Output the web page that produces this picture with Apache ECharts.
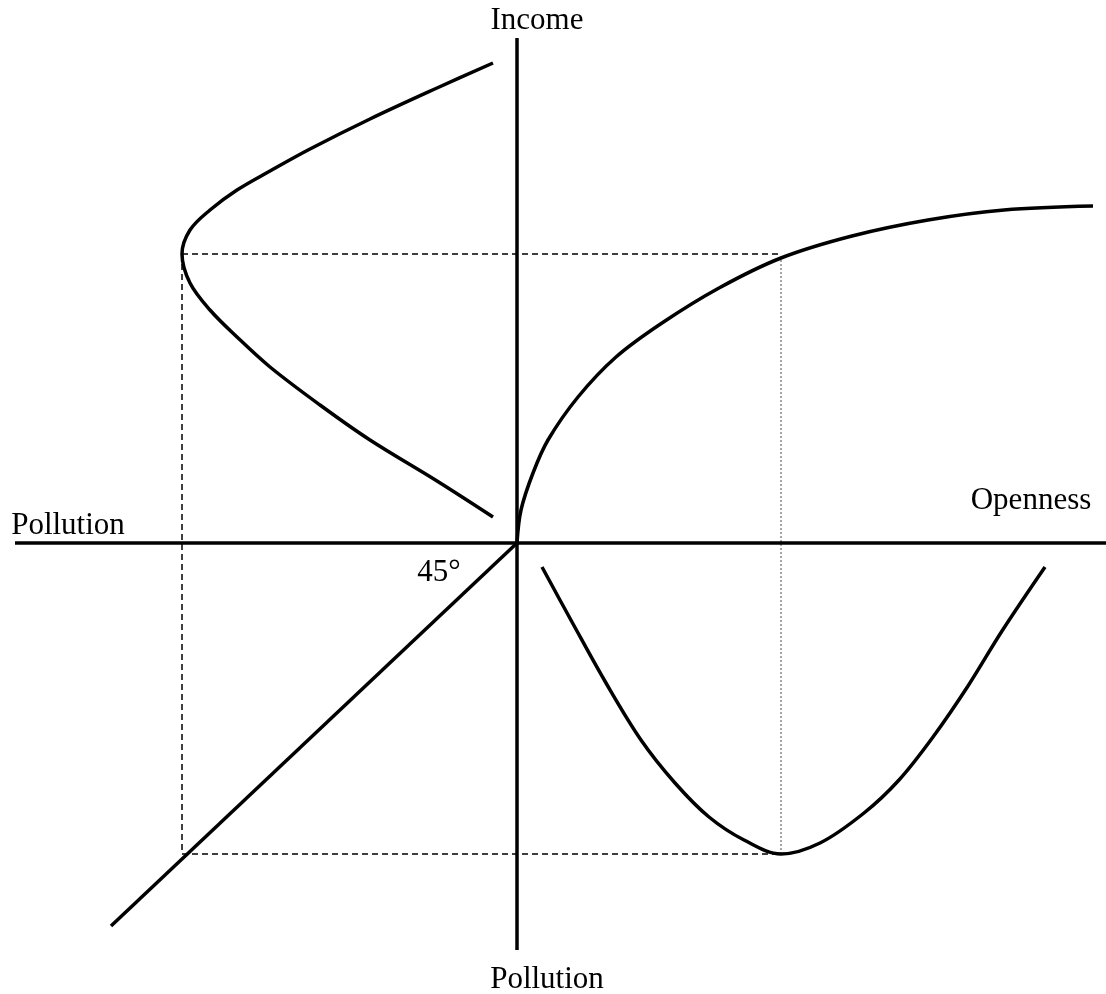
<!DOCTYPE html>
<html>
<head>
<meta charset="utf-8">
<title>Openness, income and pollution</title>
<script src="https://cdn.jsdelivr.net/npm/echarts@6/dist/echarts.min.js"></script>
<style>
    html, body { margin: 0; padding: 0; background: #fff; }
    #chart { width: 1106px; height: 994px; }
</style>
</head>
<body>
<div id="chart"></div>
<script>
// origin = where the two axes cross; x to the right = openness, x to the left = pollution,
// y up = income, y down = pollution
var incomePollution = [[-24, 480], [-80, 455], [-147, 424], [-207, 394], [-247, 372], [-280, 353],
    [-307, 333], [-327, 313], [-335, 289], [-327, 260], [-307, 233], [-280, 206], [-247, 176],
    [-197, 138], [-147, 103], [-80, 62], [-24, 26]];
var opennessIncome = [[0, 0], [4, 33], [16, 70], [31, 103], [61, 146], [99, 186], [145, 220],
    [202, 255], [264, 285], [335, 307], [411, 323], [487, 333], [576, 337]];
var opennessPollution = [[25, -24], [55, -79], [89, -140], [124, -197], [158, -240], [192, -274],
    [227, -297], [264, -311], [303, -300], [347, -270], [382, -237], [416, -194], [451, -143],
    [485, -88], [528, -24]];
var line45 = [[0, 0], [-406, -383]];

var hAxis = [[-502, 0], [589, 0]];
var vAxis = [[0, 505], [0, -407]];

// guide lines
var guideTop = [[-335, 289], [264, 289]];
var guideLeft = [[-335, 289], [-335, -311]];
var guideBottom = [[-335, -311], [264, -311]];
var guideOpen = [[264, 287], [264, -311]];

var serif = "'Liberation Serif', 'Times New Roman', serif";

function solid(data, w, smooth) {
    return {
        type: 'line', data: data, symbol: 'none', smooth: smooth || false,
        lineStyle: { color: '#000', width: w }, silent: true
    };
}
function dashed(data, color, dash, w) {
    return {
        type: 'line', data: data, symbol: 'none',
        lineStyle: { color: color, width: w, type: dash }, silent: true
    };
}
function label(text, x, y) {
    return {
        type: 'text', x: x, y: y,
        style: { text: text, font: '31px ' + serif, fill: '#000', align: 'center', verticalAlign: 'middle' }
    };
}

var myChart = echarts.init(document.getElementById('chart'));

var option = {
    animation: false,
    backgroundColor: '#fff',
    grid: { left: 0, right: 0, top: 0, bottom: 0 },
    xAxis: { type: 'value', min: -517, max: 589, show: false },
    yAxis: { type: 'value', min: -451, max: 543, show: false },
    series: [
        dashed(guideTop, '#000', [6, 4], 1.5),
        dashed(guideLeft, '#000', [6, 4], 1.5),
        dashed(guideBottom, '#000', [6, 4], 1.5),
        dashed(guideOpen, '#888', [2, 2], 1.5),
        solid(hAxis, 3.5),
        solid(vAxis, 3.5),
        solid(incomePollution, 3.5, 0.35),
        solid(opennessIncome, 3.5, 0.35),
        solid(opennessPollution, 3.5, 0.35),
        solid(line45, 3.5)
    ],
    graphic: [
        label('Income', 537, 21),
        label('Openness', 1031, 501),
        label('Pollution', 68, 526),
        label('Pollution', 547, 980),
        label('45°', 439, 573)
    ]
};

myChart.setOption(option);
</script>
</body>
</html>
